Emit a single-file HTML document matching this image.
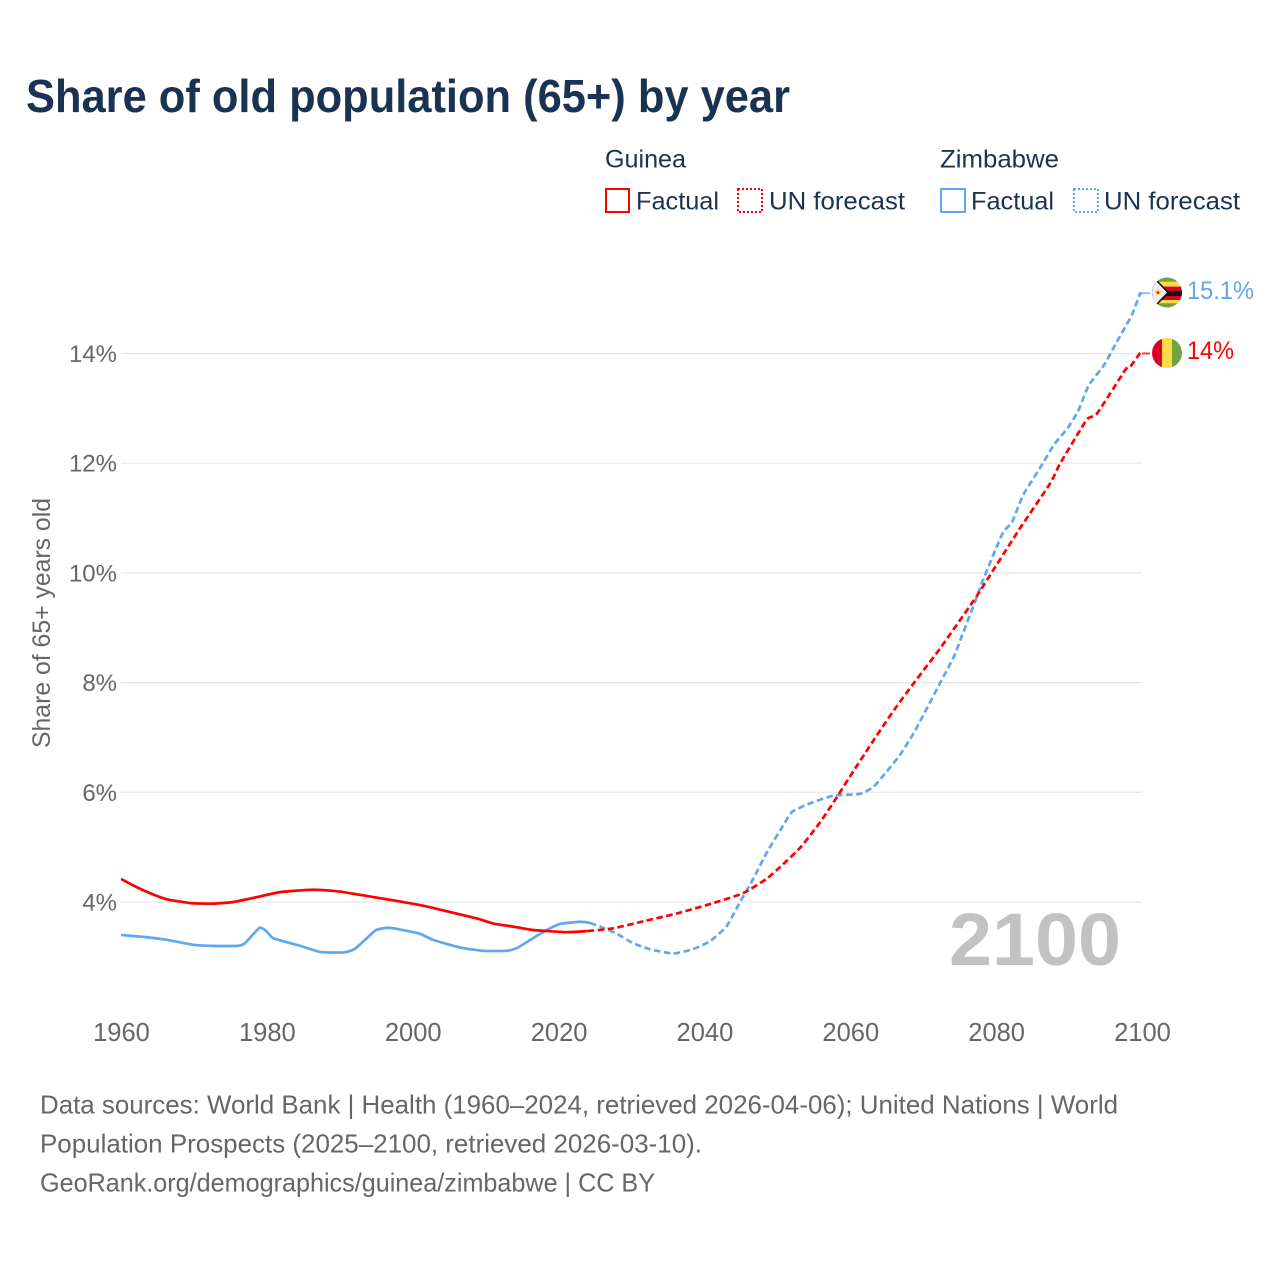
<!DOCTYPE html>
<html lang="en">
<head>
<meta charset="utf-8">
<title>Share of old population (65+) by year</title>
<style>
html,body{margin:0;padding:0;background:#fff;width:1280px;height:1280px;overflow:hidden}
svg{display:block}
text{font-family:"Liberation Sans",sans-serif}
.dark{fill:#1a3352}
.gray{fill:#666}
</style>
</head>
<body>
<svg id="chart" xmlns="http://www.w3.org/2000/svg" width="1280" height="1280" viewBox="0 0 1280 1280">
  <defs>
    <clipPath id="flag-clip-zw"><circle cx="1167" cy="292.5" r="15"/></clipPath>
    <clipPath id="flag-clip-gn"><circle cx="1167" cy="353" r="15"/></clipPath>
  </defs>
  <rect x="0" y="0" width="1280" height="1280" fill="#fff"/>
  <text x="26" y="112" font-size="46" font-weight="700" fill="#1a3352" textLength="764" lengthAdjust="spacingAndGlyphs">Share of old population (65+) by year</text>

  <g>
    <text class="dark" x="605" y="167.500" font-size="25" textLength="81" lengthAdjust="spacingAndGlyphs">Guinea</text>
    <text class="dark" x="940" y="167.500" font-size="25" textLength="119" lengthAdjust="spacingAndGlyphs">Zimbabwe</text>
    <g>
      <rect x="606" y="189" width="23" height="23" fill="none" stroke="#ff0000" stroke-width="2"/>
      <text class="dark" x="636" y="209.500" font-size="25" textLength="83" lengthAdjust="spacingAndGlyphs">Factual</text>
    </g>
    <g>
      <rect x="738" y="189" width="24" height="23" fill="none" stroke="#ff0000" stroke-width="2" stroke-dasharray="2 2"/>
      <text class="dark" x="769" y="209.500" font-size="25" textLength="136" lengthAdjust="spacingAndGlyphs">UN forecast</text>
    </g>
    <g>
      <rect x="941" y="189" width="24" height="23" fill="none" stroke="#5fa8ee" stroke-width="2"/>
      <text class="dark" x="971" y="209.500" font-size="25" textLength="83" lengthAdjust="spacingAndGlyphs">Factual</text>
    </g>
    <g>
      <rect x="1074" y="189" width="24" height="23" fill="none" stroke="#5fa8ee" stroke-width="2" stroke-dasharray="2 2"/>
      <text class="dark" x="1104" y="209.500" font-size="25" textLength="136" lengthAdjust="spacingAndGlyphs">UN forecast</text>
    </g>
  </g>

  <g id="grid"></g>
  <g id="yticks"></g>
  <g id="xticks"></g>
  <text class="gray" transform="translate(50,748) rotate(-90)" font-size="25" textLength="250" lengthAdjust="spacingAndGlyphs">Share of 65+ years old</text>
  <text x="949" y="965" font-size="74" font-weight="700" fill="#c2c2c2" textLength="172" lengthAdjust="spacingAndGlyphs">2100</text>

  <g id="series"></g>

  <g clip-path="url(#flag-clip-zw)">
    <rect x="1152" y="277" width="30" height="31" fill="#6da544"/>
    <rect x="1152" y="281.700" width="30" height="5" fill="#ffda44"/>
    <rect x="1152" y="286.700" width="30" height="4.300" fill="#d80027"/>
    <rect x="1152" y="291" width="30" height="5" fill="#111"/>
    <rect x="1152" y="296" width="30" height="4" fill="#d80027"/>
    <rect x="1152" y="300" width="30" height="3.300" fill="#ffda44"/>
    <polygon points="1155,278 1169.500,292.500 1155,307 1150,307 1150,278" fill="#111"/>
    <polygon points="1150,280.500 1155.500,280.500 1167,292.500 1155.500,304.500 1150,304.500" fill="#eeeeee"/>
    <polygon points="1158,288 1159.100,291.100 1162.300,291.100 1159.700,293.100 1160.700,296.300 1158,294.400 1155.300,296.300 1156.300,293.100 1153.700,291.100 1156.900,291.100" fill="#ffda44"/>
    <circle cx="1158" cy="292.500" r="1.300" fill="#d80027"/>
  </g>
  <text x="1187" y="299" font-size="25" fill="#5fa8ee" textLength="67" lengthAdjust="spacingAndGlyphs">15.1%</text>

  <g clip-path="url(#flag-clip-gn)">
    <rect x="1152" y="338" width="10" height="30" fill="#d80027"/>
    <rect x="1162" y="338" width="10" height="30" fill="#ffda44"/>
    <rect x="1172" y="338" width="10" height="30" fill="#6da544"/>
  </g>
  <text x="1187" y="359" font-size="25" fill="#ff0000" textLength="47" lengthAdjust="spacingAndGlyphs">14%</text>

  <g>
    <text class="gray" x="40" y="1113.500" font-size="26" textLength="1078" lengthAdjust="spacingAndGlyphs">Data sources: World Bank | Health (1960–2024, retrieved 2026-04-06); United Nations | World</text>
    <text class="gray" x="40" y="1152.500" font-size="26" textLength="662" lengthAdjust="spacingAndGlyphs">Population Prospects (2025–2100, retrieved 2026-03-10).</text>
    <text class="gray" x="40" y="1191.500" font-size="26" textLength="615" lengthAdjust="spacingAndGlyphs">GeoRank.org/demographics/guinea/zimbabwe | CC BY</text>
  </g>
</svg>
<script>
const xTickYears = [1960, 1980, 2000, 2020, 2040, 2060, 2080, 2100];
const yTickValues = [4, 6, 8, 10, 12, 14];

const guineaFactualYears = [1960, 1962, 1964, 1966.3, 1969.5, 1972.6, 1975.4, 1979, 1981.8, 1985.5, 1987.3, 1990, 1993.7, 1998.2, 2001.9, 2005, 2008.8, 2011, 2013.8, 2016.5, 2021, 2024];
const guineaFactualValues = [4.42, 4.28, 4.16, 4.05, 3.98, 3.97, 4.0, 4.1, 4.18, 4.22, 4.22, 4.19, 4.11, 4.01, 3.92, 3.82, 3.70, 3.61, 3.55, 3.49, 3.45, 3.47];
const guineaForecastYears = [2024, 2027.5, 2032, 2036.2, 2040.7, 2045.3, 2048.5, 2050.4, 2053.2, 2055.9, 2058.2, 2060.4, 2063.2, 2066, 2068.7, 2072.3, 2077.3, 2079.6, 2083.3, 2087.4, 2088.8, 2092.4, 2093.8, 2097.7, 2098.4, 2099.7, 2100];
const guineaForecastValues = [3.47, 3.52, 3.66, 3.79, 3.96, 4.16, 4.42, 4.64, 5.0, 5.46, 5.92, 6.38, 6.95, 7.5, 7.99, 8.62, 9.57, 10.05, 10.82, 11.63, 12.0, 12.79, 12.9, 13.7, 13.76, 14.0, 14.0];

const zimbabweFactualYears = [1960, 1964, 1966.3, 1969.9, 1972.6, 1975.9, 1977, 1979, 1980, 1980.9, 1984.6, 1987.3, 1990.5, 1992, 1993.7, 1995, 1996.5, 1998.2, 2001, 2002.8, 2006.5, 2009.7, 2012.9, 2014.3, 2016.5, 2018.4, 2020.2, 2023, 2024.3];
const zimbabweFactualValues = [3.40, 3.35, 3.31, 3.22, 3.20, 3.20, 3.25, 3.53, 3.46, 3.34, 3.20, 3.09, 3.08, 3.14, 3.34, 3.49, 3.53, 3.50, 3.42, 3.31, 3.17, 3.11, 3.11, 3.16, 3.34, 3.49, 3.60, 3.64, 3.62];
const zimbabweForecastYears = [2024.3, 2025.7, 2028, 2030.2, 2032.5, 2035.7, 2038.4, 2040.7, 2043, 2044.8, 2046.6, 2048.5, 2050.4, 2052, 2054.5, 2057.7, 2061.3, 2063.2, 2065, 2066.8, 2068.7, 2070.5, 2072.3, 2074.2, 2075.5, 2077.3, 2078.2, 2079.9, 2081, 2082.2, 2083.7, 2086, 2087.9, 2089.8, 2091.2, 2092.7, 2094.8, 2096.5, 2098.6, 2099.7, 2100];
const zimbabweForecastValues = [3.62, 3.55, 3.42, 3.25, 3.14, 3.06, 3.14, 3.28, 3.55, 3.98, 4.4, 4.89, 5.31, 5.64, 5.8, 5.94, 5.97, 6.1, 6.38, 6.68, 7.08, 7.53, 7.99, 8.47, 8.92, 9.54, 9.87, 10.42, 10.75, 10.93, 11.42, 11.91, 12.33, 12.64, 12.94, 13.42, 13.79, 14.2, 14.7, 15.08, 15.1];

const SVG_NS = 'http://www.w3.org/2000/svg';
const X0 = 121, X1 = 1142, Y4 = 902, PX_PER_PCT = 54.85;
function xScale(year) { return X0 + (year - 1960) * (X1 - X0) / 140; }
function yScale(value) { return Y4 - (value - 4) * PX_PER_PCT; }

function linePath(years, values) {
  const pts = years.map(function (yr, i) { return [xScale(yr), yScale(values[i])]; });
  let d = 'M' + pts[0][0].toFixed(2) + ' ' + pts[0][1].toFixed(2);
  for (let i = 0; i < pts.length - 1; i++) {
    const p0 = pts[Math.max(i - 1, 0)], p1 = pts[i], p2 = pts[i + 1], p3 = pts[Math.min(i + 2, pts.length - 1)];
    const c1x = p1[0] + (p2[0] - p0[0]) / 12, c1y = p1[1] + (p2[1] - p0[1]) / 12;
    const c2x = p2[0] - (p3[0] - p1[0]) / 12, c2y = p2[1] - (p3[1] - p1[1]) / 12;
    d += 'C' + c1x.toFixed(2) + ' ' + c1y.toFixed(2) + ' ' + c2x.toFixed(2) + ' ' + c2y.toFixed(2) + ' ' + p2[0].toFixed(2) + ' ' + p2[1].toFixed(2);
  }
  return d;
}

const gridGroup = document.getElementById('grid');
const yTickGroup = document.getElementById('yticks');
const xTickGroup = document.getElementById('xticks');
const seriesGroup = document.getElementById('series');

yTickValues.forEach(function (v) {
  const line = document.createElementNS(SVG_NS, 'line');
  line.setAttribute('x1', X0);
  line.setAttribute('x2', X1);
  line.setAttribute('y1', yScale(v));
  line.setAttribute('y2', yScale(v));
  line.setAttribute('stroke', '#e6e6e6');
  line.setAttribute('stroke-width', '1.2');
  
  
  gridGroup.appendChild(line);

  const label = document.createElementNS(SVG_NS, 'text');
  label.setAttribute('x', 117);
  label.setAttribute('y', yScale(v) + 8.5);
  label.setAttribute('text-anchor', 'end');
  label.setAttribute('font-size', '24');
  label.setAttribute('class', 'gray');
  
  
  label.textContent = v + '%';
  yTickGroup.appendChild(label);
});

xTickYears.forEach(function (yr) {
  const label = document.createElementNS(SVG_NS, 'text');
  label.setAttribute('x', xScale(yr) + 0.5);
  label.setAttribute('y', 1041);
  label.setAttribute('text-anchor', 'middle');
  label.setAttribute('font-size', '25.5');
  label.setAttribute('class', 'gray');
  
  
  label.textContent = yr;
  xTickGroup.appendChild(label);
});

function drawLine(years, values, color, dashed, name) {
  const path = document.createElementNS(SVG_NS, 'path');
  path.setAttribute('d', linePath(years, values));
  path.setAttribute('fill', 'none');
  path.setAttribute('stroke', color);
  path.setAttribute('stroke-width', '2.7');
  path.setAttribute('stroke-linejoin', 'round');
  if (dashed) path.setAttribute('stroke-dasharray', '6.5 3.5');
  
  
  seriesGroup.appendChild(path);
}

function drawConnector(values, color, name) {
  const last = values[values.length - 1];
  const line = document.createElementNS(SVG_NS, 'line');
  line.setAttribute('x1', X1);
  line.setAttribute('x2', X1 + 8);
  line.setAttribute('y1', yScale(last));
  line.setAttribute('y2', yScale(last));
  line.setAttribute('stroke', color);
  line.setAttribute('stroke-width', '2');
  line.setAttribute('stroke-opacity', '0.75');
  
  
  seriesGroup.appendChild(line);
}

drawLine(zimbabweFactualYears, zimbabweFactualValues, '#5fa8ee', false, 'line-zimbabwe-factual');
drawLine(zimbabweForecastYears, zimbabweForecastValues, '#5fa8ee', true, 'line-zimbabwe-forecast');
drawLine(guineaFactualYears, guineaFactualValues, '#ff0000', false, 'line-guinea-factual');
drawLine(guineaForecastYears, guineaForecastValues, '#ff0000', true, 'line-guinea-forecast');
drawConnector(zimbabweForecastValues, '#5fa8ee', 'connector-zimbabwe');
drawConnector(guineaForecastValues, '#ff0000', 'connector-guinea');
</script>
</body>
</html>
